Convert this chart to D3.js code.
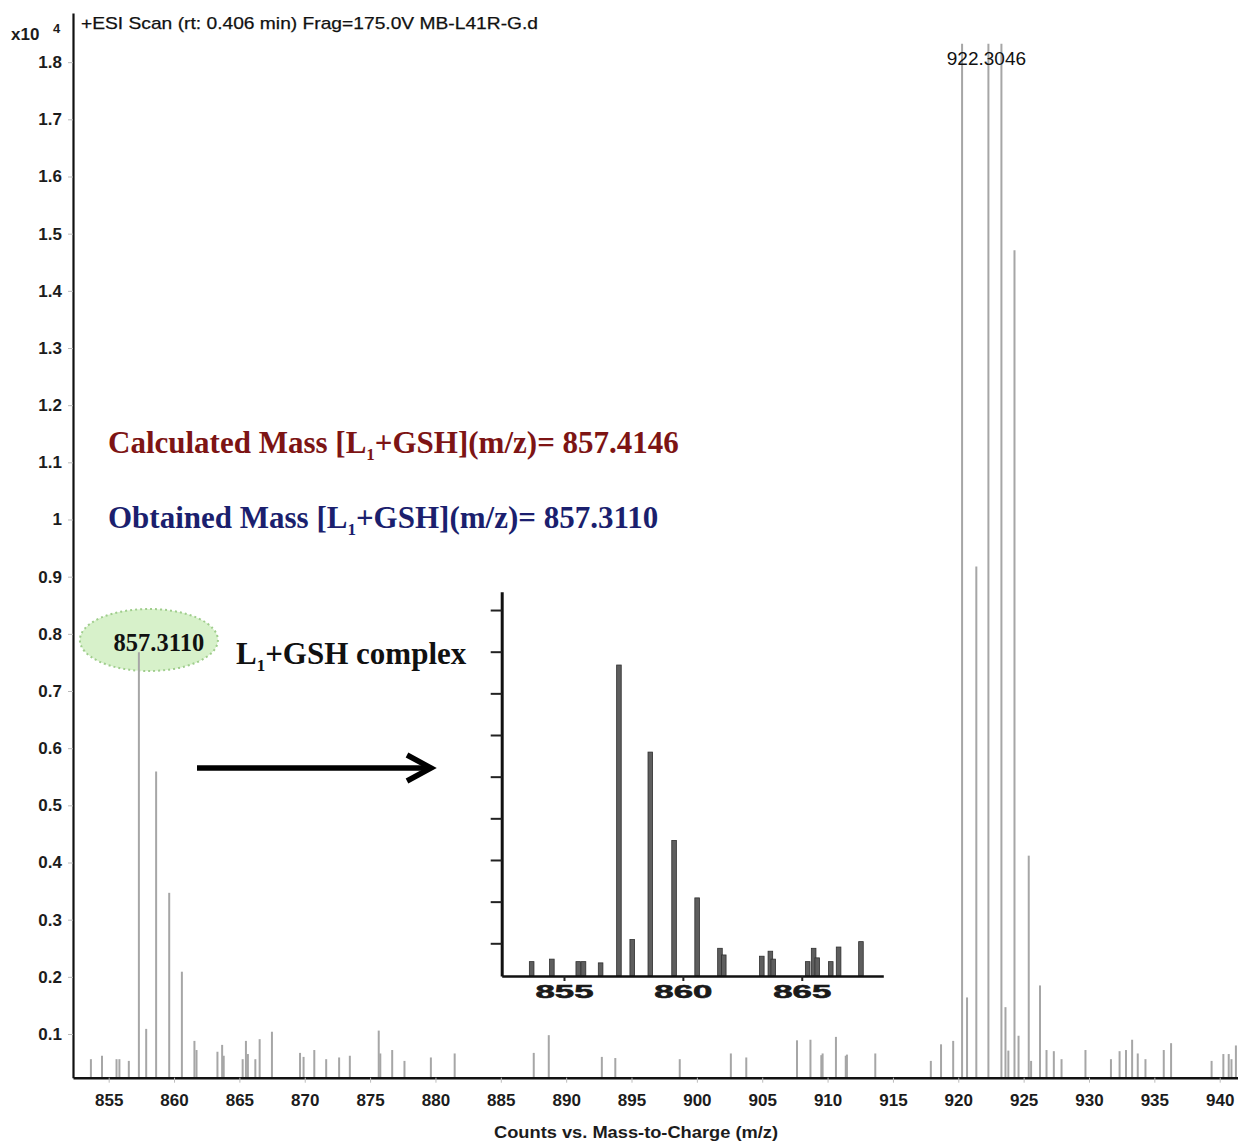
<!DOCTYPE html>
<html>
<head>
<meta charset="utf-8">
<script src="https://cdn.jsdelivr.net/npm/d3@7"></script>
<style>
  body { margin: 0; background: #fff; }
  svg { display: block; }
</style>
</head>
<body>
<svg id="chart" width="1238" height="1142"></svg>
<script>
// Centroided peaks of the ESI scan: m/z and intensity (counts x10^4)
const peakMz = [
  853.64, 854.49, 855.60, 855.82, 856.54, 857.3110, 857.87, 858.63, 859.63, 860.60,
  861.56, 861.72, 863.32, 863.68, 863.80, 865.25, 865.50, 865.65, 866.22, 866.55,
  867.49, 869.64, 869.91, 870.73, 871.64, 872.63, 873.45, 875.66, 875.78, 876.69,
  877.63, 879.65, 881.47, 887.52, 888.67, 892.73, 893.76, 898.69, 902.60, 903.78,
  907.66, 908.69, 909.52, 909.62, 910.64, 911.39, 911.48, 913.65, 917.90, 918.68,
  919.61, 920.29, 920.67, 921.38, 922.3046, 923.30, 923.61, 923.83, 924.30, 924.61,
  925.39, 925.57, 926.25, 926.75, 927.31, 927.90, 929.73, 931.68, 932.34, 932.83,
  933.30, 933.73, 934.32, 935.72, 936.28, 939.38, 940.28, 940.69, 940.90, 941.24
];
const peakIntensity = [
  0.056, 0.062, 0.056, 0.056, 0.053, 0.768, 0.109, 0.559, 0.347, 0.209,
  0.088, 0.072, 0.069, 0.081, 0.062, 0.056, 0.088, 0.065, 0.056, 0.091,
  0.104, 0.067, 0.060, 0.072, 0.056, 0.059, 0.062, 0.106, 0.066, 0.072,
  0.053, 0.059, 0.066, 0.067, 0.098, 0.060, 0.058, 0.056, 0.066, 0.059,
  0.089, 0.090, 0.063, 0.066, 0.095, 0.062, 0.064, 0.066, 0.053, 0.082,
  0.088, 1.832, 0.164, 0.918, 1.832, 1.832, 0.147, 0.071, 1.471, 0.097,
  0.412, 0.053, 0.185, 0.072, 0.070, 0.056, 0.072, 0.056, 0.070, 0.072,
  0.090, 0.066, 0.056, 0.072, 0.084, 0.053, 0.065, 0.065, 0.056, 0.080
];

const xTickValues = [855, 860, 865, 870, 875, 880, 885, 890, 895, 900, 905, 910, 915, 920, 925, 930, 935, 940];
const yTickValues = [0.1, 0.2, 0.3, 0.4, 0.5, 0.6, 0.7, 0.8, 0.9, 1.0, 1.1, 1.2, 1.3, 1.4, 1.5, 1.6, 1.7, 1.8];
const yTickLabels = ["0.1", "0.2", "0.3", "0.4", "0.5", "0.6", "0.7", "0.8", "0.9", "1", "1.1", "1.2", "1.3", "1.4", "1.5", "1.6", "1.7", "1.8"];
const insetXTickValues = [855, 860, 865];
const insetXTickLabels = ["855", "860", "865"];
const insetYTickValues = [0.1, 0.2, 0.3, 0.4, 0.5, 0.6, 0.7, 0.8, 0.9];

const scanTitle = "+ESI Scan (rt: 0.406 min) Frag=175.0V MB-L41R-G.d";
const xAxisTitle = "Counts vs. Mass-to-Charge (m/z)";
const basePeakMz = 922.3046;
const complexPeakMz = 857.3110;
const calculatedMass = "857.4146";
const obtainedMass = "857.3110";

const peaks = peakMz.map((m, i) => ({ mz: m, value: peakIntensity[i] }));

const svg = d3.select("#chart");
const sans = "'Liberation Sans', Arial, Helvetica, sans-serif";
const serif = "'Liberation Serif', 'Times New Roman', serif";

// ---------- main spectrum scales ----------
const x = d3.scaleLinear().domain([852.27, 941.4]).range([73, 1238]);
const y = d3.scaleLinear().domain([0.0236, 1.886]).range([1077.7, 13]);

// annotation ellipse around the complex peak label (drawn beneath the sticks)
const cx = x(complexPeakMz);
svg.append("ellipse")
  .attr("cx", cx + 10).attr("cy", 640)
  .attr("rx", 69).attr("ry", 31)
  .attr("fill", "#d7f1ca")
  .attr("stroke", "#9fcd8c")
  .attr("stroke-width", 2)
  .attr("stroke-dasharray", "2,3");

// peak sticks
svg.append("g").selectAll("line")
  .data(peaks)
  .join("line")
  .attr("x1", d => x(d.mz)).attr("x2", d => x(d.mz))
  .attr("y1", y.range()[0]).attr("y2", d => y(d.value))
  .attr("stroke", "#a6a6a6")
  .attr("stroke-width", 2);

// y axis
const yAxis = svg.append("g")
  .attr("transform", "translate(73,0)")
  .call(d3.axisLeft(y).tickValues(yTickValues)
    .tickFormat((d, i) => yTickLabels[i])
    .tickSizeInner(5).tickSizeOuter(0));
yAxis.select(".domain").attr("stroke", "#111").attr("stroke-width", 2.2);
yAxis.selectAll(".tick line").attr("stroke", "#bbb");
yAxis.selectAll(".tick text")
  .attr("x", -11)
  .attr("font-family", sans).attr("font-size", 17).attr("font-weight", "bold")
  .attr("fill", "#1c1c1c");

// x axis
const xAxis = svg.append("g")
  .attr("transform", `translate(0,${y.range()[0]})`)
  .call(d3.axisBottom(x).tickValues(xTickValues).tickSizeInner(5).tickSizeOuter(0));
xAxis.select(".domain").attr("stroke", "#111").attr("stroke-width", 2.6);
xAxis.selectAll(".tick line").attr("stroke", "#bbb");
xAxis.selectAll(".tick text")
  .attr("y", 16)
  .attr("font-family", sans).attr("font-size", 17).attr("font-weight", "bold")
  .attr("fill", "#1c1c1c");

// exponent marker
const expo = svg.append("text")
  .attr("x", 11).attr("y", 40)
  .attr("font-family", sans).attr("font-size", 17).attr("font-weight", "bold")
  .attr("fill", "#1c1c1c");
expo.append("tspan").text("x10");
expo.append("tspan").attr("x", 53).attr("y", 33).attr("font-size", 13).text("4");

// scan header
svg.append("text")
  .attr("x", 81).attr("y", 29)
  .attr("font-family", sans).attr("font-size", 17)
  .attr("textLength", 457).attr("lengthAdjust", "spacingAndGlyphs")
  .attr("fill", "#111")
  .attr("stroke", "#111").attr("stroke-width", 0.25)
  .text(scanTitle);

// axis title
svg.append("text")
  .attr("x", 636).attr("y", 1138)
  .attr("text-anchor", "middle")
  .attr("font-family", sans).attr("font-size", 16).attr("font-weight", "bold")
  .attr("textLength", 284).attr("lengthAdjust", "spacingAndGlyphs")
  .attr("fill", "#1c1c1c")
  .text(xAxisTitle);

// base peak label
svg.append("text")
  .attr("x", x(basePeakMz) - 2).attr("y", 65)
  .attr("text-anchor", "middle")
  .attr("font-family", sans).attr("font-size", 19)
  .attr("fill", "#111")
  .text(basePeakMz.toFixed(4));

// complex peak label inside the ellipse
svg.append("text")
  .attr("x", cx + 20).attr("y", 651)
  .attr("text-anchor", "middle")
  .attr("font-family", serif).attr("font-size", 24.5).attr("font-weight", "bold")
  .attr("fill", "#111")
  .text(complexPeakMz.toFixed(4));

// L1 + GSH annotation lines
function massLine(yPos, prefix, suffix, color, fontSize) {
  const t = svg.append("text")
    .attr("x", 108).attr("y", yPos)
    .attr("font-family", serif).attr("font-size", fontSize).attr("font-weight", "bold")
    .attr("fill", color);
  t.append("tspan").text(prefix + "L");
  t.append("tspan").attr("dy", 7).attr("font-size", fontSize * 0.55).text("1");
  t.append("tspan").attr("dy", -7).text(suffix);
  return t;
}
massLine(453, "Calculated Mass [", "+GSH](m/z)= " + calculatedMass, "#7d1414", 31);
massLine(528, "Obtained Mass [", "+GSH](m/z)= " + obtainedMass, "#1b1f6e", 31);

const cmplx = svg.append("text")
  .attr("x", 236).attr("y", 664)
  .attr("font-family", serif).attr("font-size", 31).attr("font-weight", "bold")
  .attr("fill", "#111");
cmplx.append("tspan").text("L");
cmplx.append("tspan").attr("dy", 7).attr("font-size", 17).text("1");
cmplx.append("tspan").attr("dy", -7).text("+GSH complex");

// arrow pointing to the zoomed view
svg.append("line")
  .attr("x1", 197).attr("x2", 430).attr("y1", 768).attr("y2", 768)
  .attr("stroke", "#000").attr("stroke-width", 5.5);
svg.append("polyline")
  .attr("points", "407,755 431,768 407,781")
  .attr("fill", "none").attr("stroke", "#000").attr("stroke-width", 5.5)
  .attr("stroke-linejoin", "miter");

// ---------- inset: zoom on the complex isotope cluster ----------
const xi = d3.scaleLinear().domain([852.38, 868.43]).range([501.7, 883.3]);
const yi = d3.scaleLinear().domain([0.0215, 0.944]).range([976, 591.7]);
const insetPeaks = peaks.filter(d => d.mz > xi.domain()[0] && d.mz < 868.2);

svg.append("g").selectAll("rect")
  .data(insetPeaks)
  .join("rect")
  .attr("x", d => xi(d.mz) - 2.3)
  .attr("width", 4.6)
  .attr("y", d => yi(d.value))
  .attr("height", d => yi.range()[0] - yi(d.value))
  .attr("fill", "#5e5e5e")
  .attr("stroke", "#2f2f2f")
  .attr("stroke-width", 0.8);

const iy = svg.append("g")
  .attr("transform", "translate(501.7,0)")
  .call(d3.axisLeft(yi).tickValues(insetYTickValues).tickFormat("").tickSizeInner(11).tickSizeOuter(0));
iy.select(".domain").attr("stroke", "#111").attr("stroke-width", 3);
iy.selectAll(".tick line").attr("stroke", "#222").attr("stroke-width", 2);

const ix = svg.append("g")
  .attr("transform", `translate(0,${yi.range()[0]})`)
  .call(d3.axisBottom(xi).tickValues(insetXTickValues)
    .tickFormat((d, i) => insetXTickLabels[i])
    .tickSizeInner(5).tickSizeOuter(0));
ix.select(".domain").attr("stroke", "#111").attr("stroke-width", 2.6);
ix.selectAll(".tick line").attr("stroke", "#222").attr("stroke-width", 2);
ix.selectAll(".tick text")
  .attr("y", 9)
  .attr("font-family", sans).attr("font-size", 19).attr("font-weight", "bold")
  .attr("textLength", 58).attr("lengthAdjust", "spacingAndGlyphs")
  .attr("fill", "#1a1a1a")
  .attr("stroke", "#1a1a1a").attr("stroke-width", 0.6);
</script>
</body>
</html>
